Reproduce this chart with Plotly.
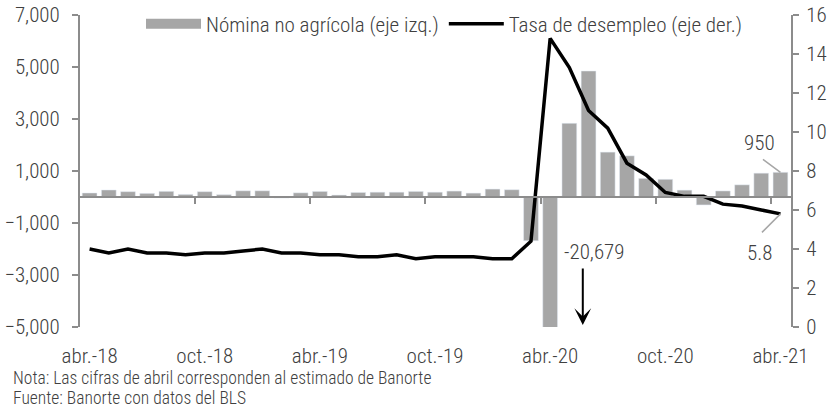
import plotly.graph_objects as go

meses = ["abr.-18", "may.-18", "jun.-18", "jul.-18", "ago.-18", "sep.-18", "oct.-18", "nov.-18", "dic.-18",
         "ene.-19", "feb.-19", "mar.-19", "abr.-19", "may.-19", "jun.-19", "jul.-19", "ago.-19", "sep.-19",
         "oct.-19", "nov.-19", "dic.-19", "ene.-20", "feb.-20", "mar.-20", "abr.-20", "may.-20", "jun.-20",
         "jul.-20", "ago.-20", "sep.-20", "oct.-20", "nov.-20", "dic.-20", "ene.-21", "feb.-21", "mar.-21",
         "abr.-21"]

nomina = [155, 270, 205, 140, 218, 100, 205, 90, 238, 238, -40, 160, 215, 77, 175, 185, 185, 215, 185,
          228, 150, 305, 280, -1683, -20679, 2833, 4846, 1726, 1583, 716, 680, 264, -306, 233, 468, 916, 950]

desempleo = [4.0, 3.8, 4.0, 3.8, 3.8, 3.7, 3.8, 3.8, 3.9, 4.0, 3.8, 3.8, 3.7, 3.7, 3.6, 3.6, 3.7, 3.5, 3.6,
             3.6, 3.6, 3.5, 3.5, 4.4, 14.8, 13.3, 11.1, 10.2, 8.4, 7.8, 6.9, 6.7, 6.7, 6.3, 6.2, 6.0, 5.8]

ticks_izq = [-5000, -3000, -1000, 1000, 3000, 5000, 7000]
ticks_der = [0, 2, 4, 6, 8, 10, 12, 14, 16]

idx = list(range(len(meses)))
FONT = "Roboto Condensed, Liberation Sans Narrow, Arial Narrow, sans-serif"
W = 300
TXT = "#404040"
AX = "#8c8c8c"
BAR = "#a6a6a6"
xr = [-0.5, 36.55]

# plot area in pixels
L, R, T, B = 80, 36, 15, 83
PW, PH = 827 - L - R, 410 - T - B


def px_x(p):
    return (p - L) / PW


def px_y(p):
    return (410 - B - p) / PH


fig = go.Figure()
fig.add_trace(go.Bar(x=idx, y=nomina, marker_color=BAR, width=0.77, showlegend=False,
                     xaxis="x", yaxis="y"))
# legend swatch for the bars (wide rectangle, as in the reference)
fig.add_trace(go.Scatter(x=[None], y=[None], mode="lines", line=dict(color=BAR, width=10),
                         name="Nómina no agrícola (eje izq.)", xaxis="x", yaxis="y"))
fig.add_trace(go.Scatter(x=idx, y=desempleo, mode="lines", line=dict(color="black", width=3.5),
                         name="Tasa de desempleo (eje der.)", xaxis="x2", yaxis="y2"))

tickfont = dict(family=FONT, size=21, color=TXT, weight=W)

fig.update_layout(
    width=827, height=410,
    margin=dict(l=L, r=R, t=T, b=B, autoexpand=False),
    paper_bgcolor="white", plot_bgcolor="white",
    font=dict(family=FONT, size=21, color=TXT, weight=W),
    showlegend=True,
    legend=dict(orientation="h", x=px_x(141), xanchor="left", y=px_y(24), yanchor="middle",
                font=tickfont, bgcolor="rgba(0,0,0,0)", itemwidth=55),
    xaxis=dict(range=xr, tickvals=idx[::6], ticktext=meses[::6], ticks="", showline=False,
               showgrid=False, zeroline=False, ticklabelstandoff=14, automargin=False,
               tickfont=tickfont),
    xaxis2=dict(range=xr, overlaying="x", anchor="free", position=5/12,
                tickvals=[i - 0.5 for i in idx[6::6]], ticks="outside", ticklen=6,
                tickcolor=AX, tickwidth=2, showline=True, linecolor=AX, linewidth=2,
                showticklabels=False, showgrid=False, zeroline=False, automargin=False),
    yaxis=dict(range=[-5000, 7000], tickvals=ticks_izq, tickformat=",d", ticks="outside",
               ticklen=6, tickcolor=AX, tickwidth=2, showline=True, linecolor=AX, linewidth=2,
               showgrid=False, zeroline=False, tickfont=tickfont, automargin=False,
               ticklabelstandoff=8),
    yaxis2=dict(range=[0, 16], tickvals=ticks_der, overlaying="y", anchor="x2", side="right",
                ticks="outside", ticklen=6, tickcolor=AX, tickwidth=2, showline=True,
                linecolor=AX, linewidth=2, showgrid=False, zeroline=False,
                tickfont=tickfont, automargin=False, ticklabelstandoff=3),
)

annfont = dict(family=FONT, size=21, color=TXT, weight=W)
notefont = dict(family=FONT, size=17.5, color=TXT, weight=W)
annotations = [
    dict(x=26.3, y=-2115, xref="x", yref="y", text="-20,679", showarrow=False, font=annfont),
    dict(x=25.7, y=-4923, xref="x", yref="y", ax=25.7, ay=-2692, axref="x", ayref="y",
         text="", showarrow=True, arrowhead=3, arrowsize=1.4, arrowwidth=2, arrowcolor="black"),
    dict(x=34.9, y=2077, xref="x", yref="y", text="950", showarrow=False, font=annfont),
    dict(x=36, y=950, xref="x", yref="y", ax=-19, ay=-14, text="", showarrow=True,
         arrowhead=0, arrowwidth=1.5, arrowcolor=BAR),
    dict(x=34.9, y=3.8, xref="x2", yref="y2", text="5.8", showarrow=False, font=annfont),
    dict(x=36, y=5.8, xref="x2", yref="y2", ax=-20, ay=20, text="", showarrow=True,
         arrowhead=0, arrowwidth=1.5, arrowcolor=BAR),
    dict(x=px_x(11), y=px_y(390), xref="paper", yref="paper",
         text="Nota: Las cifras de abril corresponden al estimado de Banorte",
         showarrow=False, xanchor="left", yanchor="bottom", font=notefont),
    dict(x=px_x(11), y=px_y(410), xref="paper", yref="paper",
         text="Fuente: Banorte con datos del BLS",
         showarrow=False, xanchor="left", yanchor="bottom", font=notefont),
]
fig.update_layout(annotations=annotations)

# the page's default 8px body margin would shift the whole chart; remove it
fig.write_html("out.html", post_script="document.body.style.margin='0';",
               config={"displayModeBar": False})
